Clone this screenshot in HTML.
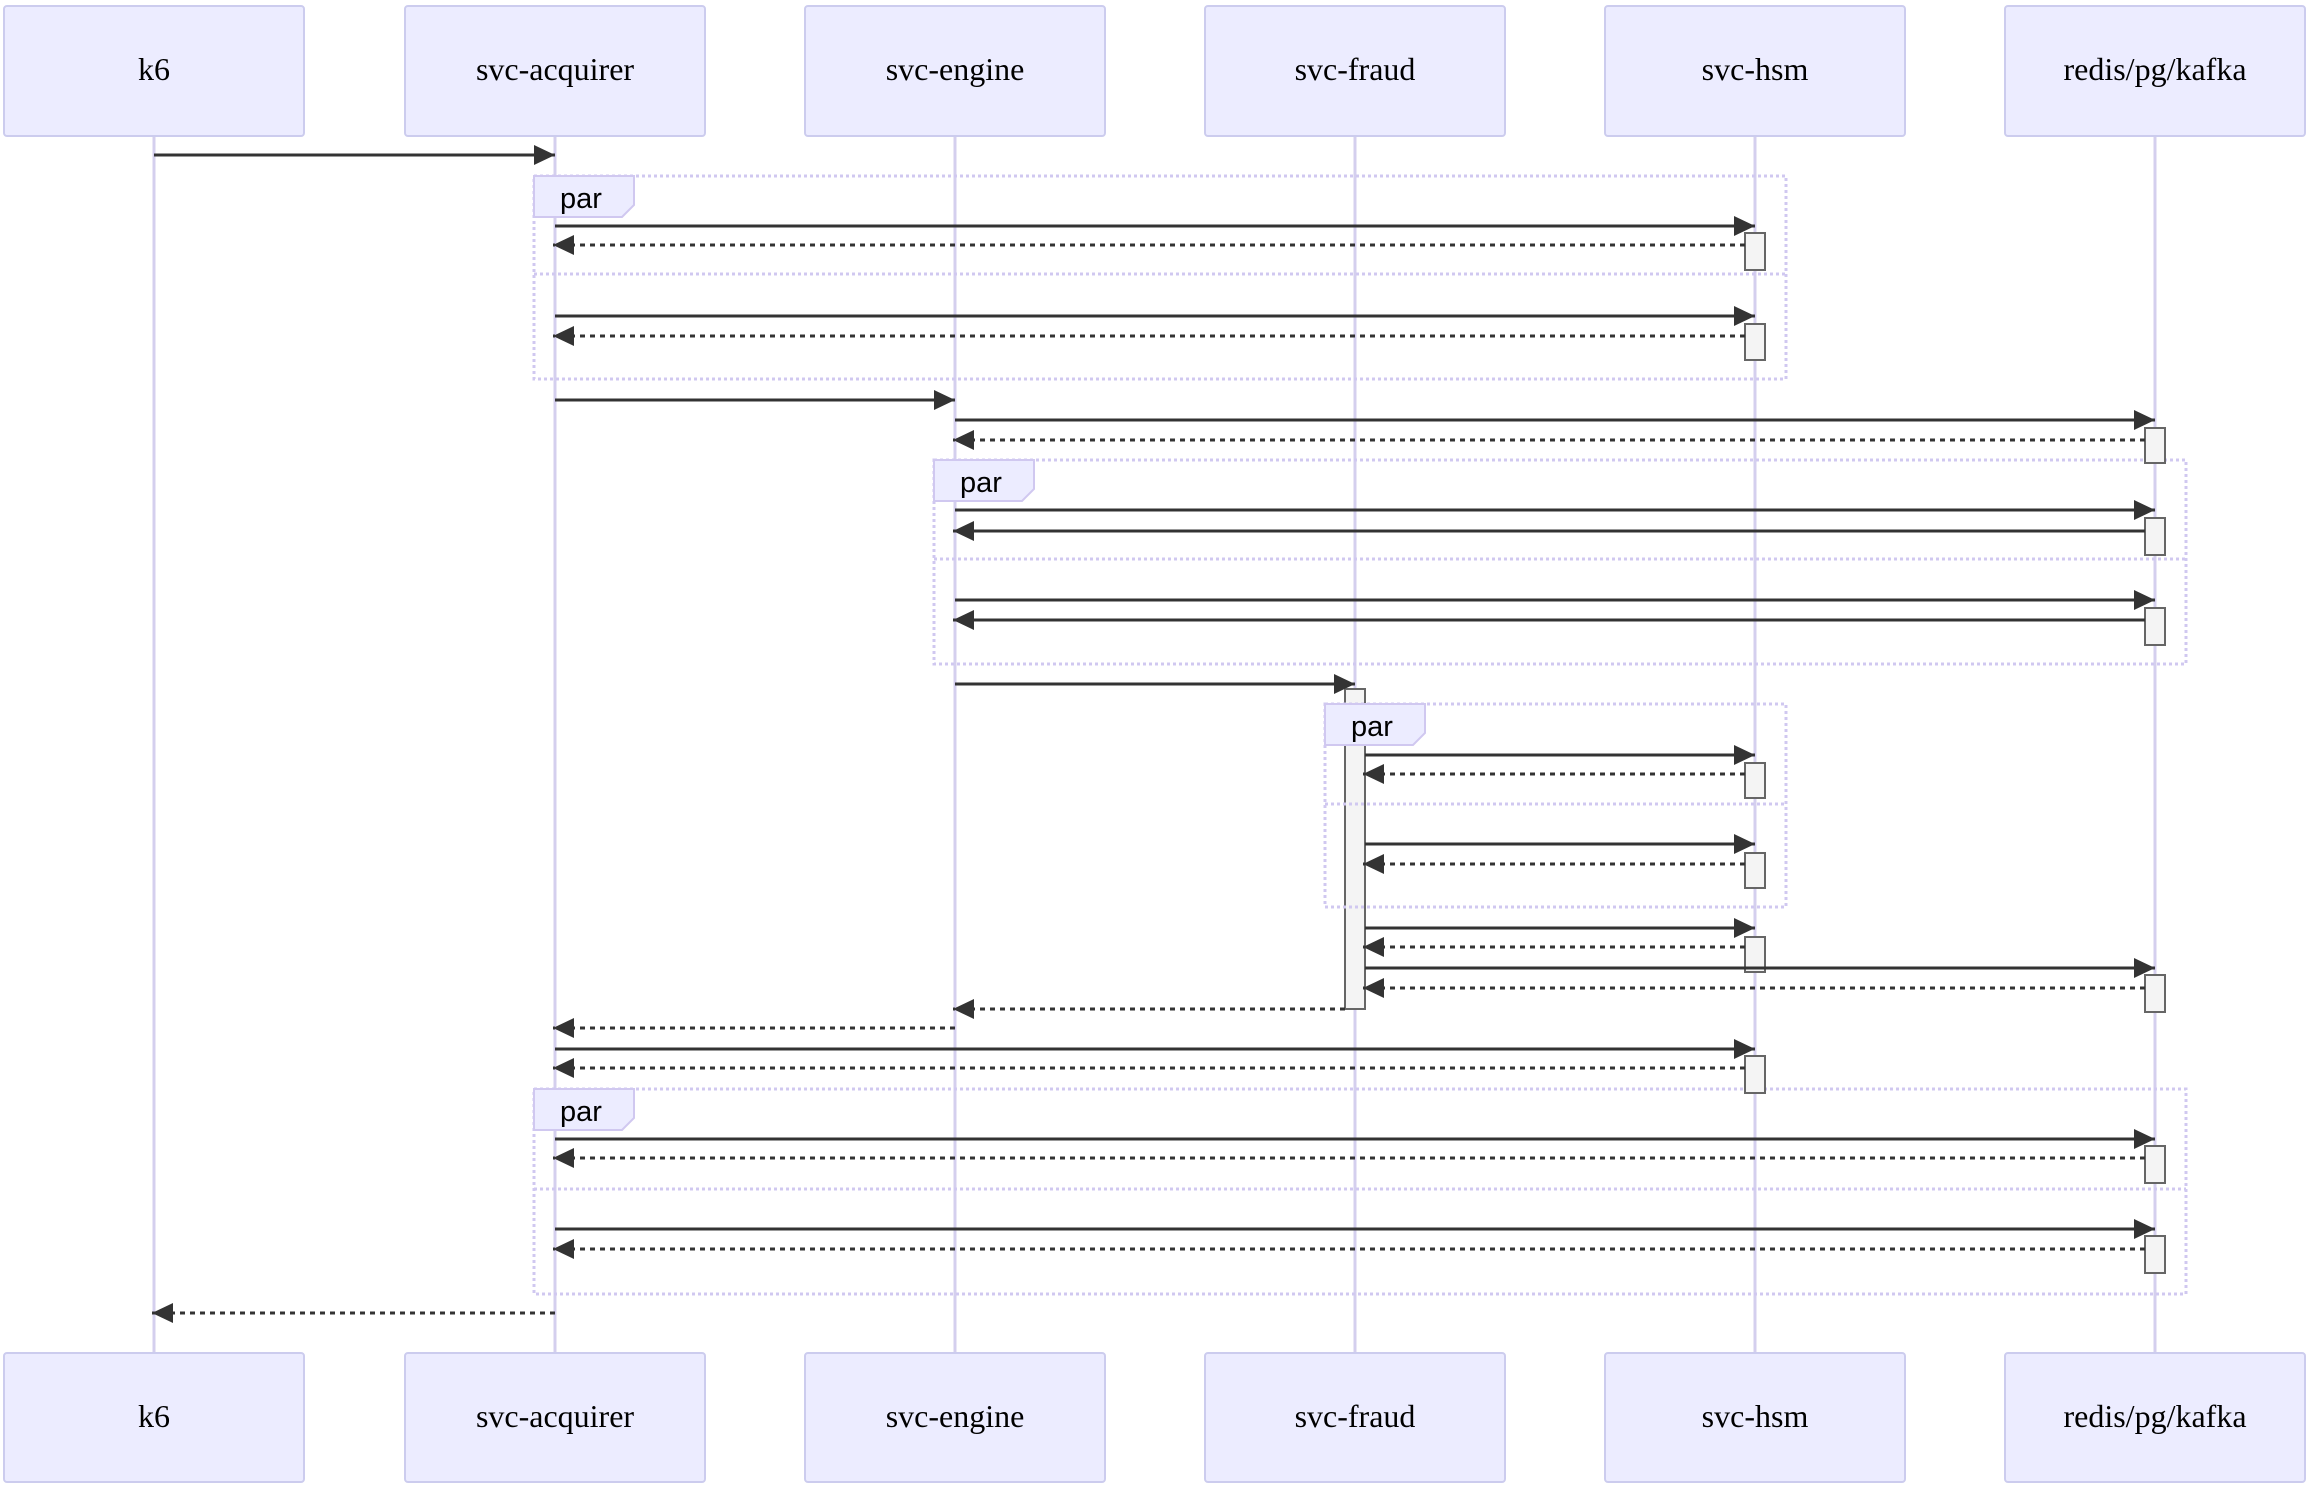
<!DOCTYPE html>
<html><head><meta charset="utf-8"><style>
html,body{margin:0;padding:0;background:#fff;}
svg{display:block;}
.box{fill:#ECECFF;stroke:#CCCCEE;stroke-width:2;}
.bt{font-family:"Liberation Serif",serif;font-size:32px;fill:#000;text-anchor:middle;}
.life{stroke:#D4CFEE;stroke-width:3;}
.par{fill:none;stroke:#D0C8F0;stroke-width:3;stroke-dasharray:3,3;}
.tab{fill:#ECECFF;stroke:#D0C8F0;stroke-width:2;}
.pt{font-family:"Liberation Sans",sans-serif;font-size:29px;fill:#000;}
.act{fill:#F4F4F4;stroke:#666;stroke-width:2;}
.m{stroke:#333;stroke-width:3;marker-end:url(#a);}
.d{stroke:#333;stroke-width:3;stroke-dasharray:5,5;marker-end:url(#a);}
</style></head><body>
<svg width="2310" height="1490" viewBox="0 0 2310 1490" xmlns="http://www.w3.org/2000/svg">
<defs><marker id="a" markerWidth="21" markerHeight="20" refX="21" refY="10" orient="auto" markerUnits="userSpaceOnUse"><path d="M0,0 L21,10 L0,20 z" fill="#333"/></marker></defs>

<g class="life">
<line x1="154" y1="136" x2="154" y2="1353"/>
<line x1="555" y1="136" x2="555" y2="1353"/>
<line x1="955" y1="136" x2="955" y2="1353"/>
<line x1="1355" y1="136" x2="1355" y2="1353"/>
<line x1="1755" y1="136" x2="1755" y2="1353"/>
<line x1="2155" y1="136" x2="2155" y2="1353"/>
</g>

<g>
<rect class="box" x="4" y="6" width="300" height="130" rx="3"/><text class="bt" x="154" y="80">k6</text>
<rect class="box" x="405" y="6" width="300" height="130" rx="3"/><text class="bt" x="555" y="80">svc-acquirer</text>
<rect class="box" x="805" y="6" width="300" height="130" rx="3"/><text class="bt" x="955" y="80">svc-engine</text>
<rect class="box" x="1205" y="6" width="300" height="130" rx="3"/><text class="bt" x="1355" y="80">svc-fraud</text>
<rect class="box" x="1605" y="6" width="300" height="130" rx="3"/><text class="bt" x="1755" y="80">svc-hsm</text>
<rect class="box" x="2005" y="6" width="300" height="130" rx="3"/><text class="bt" x="2155" y="80">redis/pg/kafka</text>

<rect class="box" x="4" y="1353" width="300" height="129" rx="3"/><text class="bt" x="154" y="1427">k6</text>
<rect class="box" x="405" y="1353" width="300" height="129" rx="3"/><text class="bt" x="555" y="1427">svc-acquirer</text>
<rect class="box" x="805" y="1353" width="300" height="129" rx="3"/><text class="bt" x="955" y="1427">svc-engine</text>
<rect class="box" x="1205" y="1353" width="300" height="129" rx="3"/><text class="bt" x="1355" y="1427">svc-fraud</text>
<rect class="box" x="1605" y="1353" width="300" height="129" rx="3"/><text class="bt" x="1755" y="1427">svc-hsm</text>
<rect class="box" x="2005" y="1353" width="300" height="129" rx="3"/><text class="bt" x="2155" y="1427">redis/pg/kafka</text>
</g>

<rect class="act" x="1345" y="689" width="20" height="320"/>

<!-- par blocks -->
<rect class="par" x="534" y="176" width="1252" height="203"/>
<line class="par" x1="534" y1="274" x2="1786" y2="274"/>
<polygon class="tab" points="534,176 634,176 634,205 622,217 534,217"/><text class="pt" x="560" y="208">par</text>

<rect class="par" x="934" y="460" width="1252" height="204"/>
<line class="par" x1="934" y1="559" x2="2186" y2="559"/>
<polygon class="tab" points="934,460 1034,460 1034,489 1022,501 934,501"/><text class="pt" x="960" y="492">par</text>

<rect class="par" x="1325" y="704" width="461" height="203"/>
<line class="par" x1="1325" y1="804" x2="1786" y2="804"/>
<polygon class="tab" points="1325,704 1425,704 1425,733 1413,745 1325,745"/><text class="pt" x="1351" y="736">par</text>

<rect class="par" x="534" y="1089" width="1652" height="205"/>
<line class="par" x1="534" y1="1189" x2="2186" y2="1189"/>
<polygon class="tab" points="534,1089 634,1089 634,1118 622,1130 534,1130"/><text class="pt" x="560" y="1121">par</text>

<!-- activations -->
<g class="act">
<rect x="1745" y="233" width="20" height="37"/>
<rect x="1745" y="324" width="20" height="36"/>
<rect x="1745" y="763" width="20" height="35"/>
<rect x="1745" y="853" width="20" height="35"/>
<rect x="1745" y="937" width="20" height="35"/>
<rect x="1745" y="1056" width="20" height="37"/>
<rect x="2145" y="428" width="20" height="35"/>
<rect x="2145" y="518" width="20" height="37"/>
<rect x="2145" y="608" width="20" height="37"/>
<rect x="2145" y="975" width="20" height="37"/>
<rect x="2145" y="1146" width="20" height="37"/>
<rect x="2145" y="1236" width="20" height="37"/>
</g>

<!-- messages -->
<line class="m" x1="154" y1="155" x2="555" y2="155"/>
<line class="m" x1="555" y1="226" x2="1755" y2="226"/>
<line class="d" x1="1745" y1="245" x2="553" y2="245"/>
<line class="m" x1="555" y1="316" x2="1755" y2="316"/>
<line class="d" x1="1745" y1="336" x2="553" y2="336"/>
<line class="m" x1="555" y1="400" x2="955" y2="400"/>
<line class="m" x1="955" y1="420" x2="2155" y2="420"/>
<line class="d" x1="2145" y1="440" x2="953" y2="440"/>
<line class="m" x1="955" y1="510" x2="2155" y2="510"/>
<line class="m" x1="2145" y1="531" x2="953" y2="531"/>
<line class="m" x1="955" y1="600" x2="2155" y2="600"/>
<line class="m" x1="2145" y1="620" x2="953" y2="620"/>
<line class="m" x1="955" y1="684" x2="1355" y2="684"/>
<line class="m" x1="1365" y1="755" x2="1755" y2="755"/>
<line class="d" x1="1745" y1="774" x2="1363" y2="774"/>
<line class="m" x1="1365" y1="844" x2="1755" y2="844"/>
<line class="d" x1="1745" y1="864" x2="1363" y2="864"/>
<line class="m" x1="1365" y1="928" x2="1755" y2="928"/>
<line class="d" x1="1745" y1="947" x2="1363" y2="947"/>
<line class="m" x1="1365" y1="968" x2="2155" y2="968"/>
<line class="d" x1="2145" y1="988" x2="1363" y2="988"/>
<line class="d" x1="1345" y1="1009" x2="953" y2="1009"/>
<line class="d" x1="955" y1="1028" x2="553" y2="1028"/>
<line class="m" x1="555" y1="1049" x2="1755" y2="1049"/>
<line class="d" x1="1745" y1="1068" x2="553" y2="1068"/>
<line class="m" x1="555" y1="1139" x2="2155" y2="1139"/>
<line class="d" x1="2145" y1="1158" x2="553" y2="1158"/>
<line class="m" x1="555" y1="1229" x2="2155" y2="1229"/>
<line class="d" x1="2145" y1="1249" x2="553" y2="1249"/>
<line class="d" x1="555" y1="1313" x2="152" y2="1313"/>
</svg>
</body></html>
